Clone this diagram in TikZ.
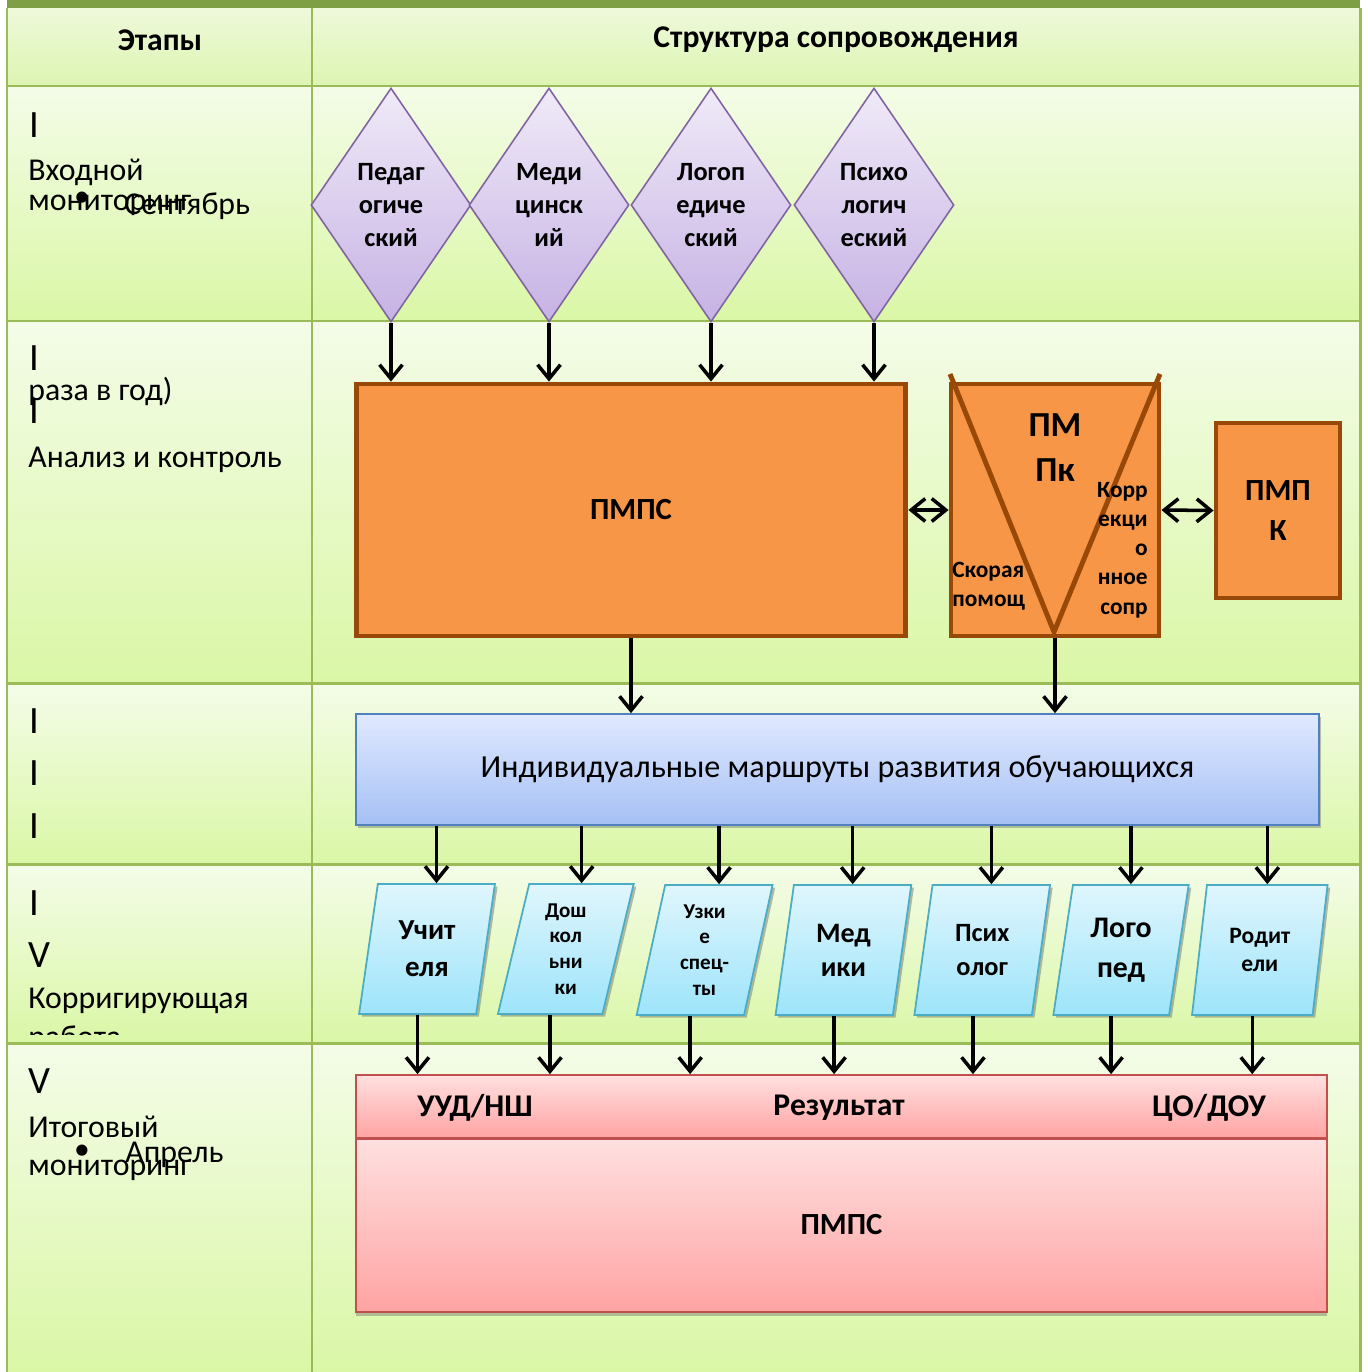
\documentclass[tikz,border=0pt]{standalone}
\usepackage{fontspec}
\setmainfont{Carlito}
\usetikzlibrary{shapes.geometric,arrows.meta,shadows,calc}
\definecolor{gridc}{HTML}{9BBB59}
\definecolor{barc}{HTML}{7F9F44}
\definecolor{cellT}{HTML}{F4FCE8}
\definecolor{cellB}{HTML}{DAF7A6}
\definecolor{headT}{HTML}{EEF9DA}
\definecolor{headB}{HTML}{DDF5B2}
\definecolor{diaT}{HTML}{F0EAF8}
\definecolor{diaB}{HTML}{C6B2E4}
\definecolor{diaL}{HTML}{8064A2}
\definecolor{orF}{HTML}{F79646}
\definecolor{orL}{HTML}{984807}
\definecolor{blT}{HTML}{E0E9FF}
\definecolor{blB}{HTML}{A5C0F4}
\definecolor{blL}{HTML}{4F81BD}
\definecolor{cyT}{HTML}{E0F6FD}
\definecolor{cyB}{HTML}{9DE4FA}
\definecolor{cyL}{HTML}{4BACC6}
\definecolor{rdT}{HTML}{FFE0E0}
\definecolor{rdB}{HTML}{FFA3A3}
\definecolor{rdL}{HTML}{C0504D}
\begin{document}
\begin{tikzpicture}[x=0.02cm,y=-0.02cm,
  gridline/.style={draw=gridc,line width=1.7pt},
  lt/.style={anchor=base west,inner sep=0,font=\fontsize{18.1}{20}\selectfont},
  rn/.style={anchor=base west,inner sep=0,font=\fontsize{22}{24}\selectfont},
  hd/.style={inner sep=0,font=\bfseries\fontsize{18}{20}\selectfont},
  dia/.style={diamond,draw=diaL,line width=0.9pt,top color=diaT,bottom color=diaB,
    minimum width=3.2cm,minimum height=4.68cm,inner sep=0,align=center,
    font=\bfseries\fontsize{15}{18.7}\selectfont},
  orbox/.style={rectangle,draw=orL,fill=orF,line width=2.8pt,inner sep=0,align=center},
  para/.style={trapezium,trapezium left angle=79,trapezium right angle=101,
    trapezium stretches=true,minimum width=2.72cm,minimum height=2.6cm,
    draw=cyL,line width=1pt,top color=cyT,bottom color=cyB,inner sep=0,align=center,
    drop shadow={shadow xshift=1.5pt,shadow yshift=-1.5pt,fill=black!60,opacity=0.45}},
  arr/.style={line width=2pt,-{Straight Barb[length=8pt,width=13pt]}},
  darr/.style={line width=2pt,{Straight Barb[length=8pt,width=13pt]}-{Straight Barb[length=8pt,width=13pt]}},
  lbl/.style={inner sep=0,align=center}]
\useasboundingbox (0,0) rectangle (1367,1372);
\fill[white] (0,0) rectangle (1367,1372);
% table cells
\shade[top color=headT,bottom color=headB] (7,8) rectangle (1360,86);
\foreach \ya/\yb in {86/321,321/683,683/864,864/1043,1043/1372}{
  \shade[top color=cellT,bottom color=cellB] (7,\ya) rectangle (312,\yb);
  \shade[top color=cellT,bottom color=cellB] (312,\ya) rectangle (1360,\yb);
}
\fill[barc] (7,0) rectangle (1360,8);
\foreach \yy in {86,321,683,864,1043}{\draw[gridline] (7,\yy) -- (1360,\yy);}
\draw[gridline] (7,8) -- (7,1372);
\draw[gridline] (312,8) -- (312,1372);
\draw[gridline] (1360,8) -- (1360,1372);
% header
\node[hd] (h1) at (160,40) {Этапы};
\node[hd] (h2) at (836,40) {Структура сопровождения};
% left column
\node[rn] (r1a) at (29,137) {I};
\node[lt] (r1b) at (28,180) {Входной};
\node[lt] (r1c) at (28,210) {мониторинг};
\node[inner sep=0,font=\fontsize{18}{20}\selectfont] (r1d) at (82,199) {•};
\node[lt] (r1e) at (124,214) {Сентябрь};
\node[rn] (r2a) at (29,370) {I};
\node[lt] (r2b) at (28,400) {раза в год)};
\node[rn] (r2c) at (29,423) {I};
\node[lt] (r2d) at (28,467) {Анализ и контроль};
\node[rn] (r3a) at (29,733) {I};
\node[rn] (r3b) at (29,785) {I};
\node[rn] (r3c) at (29,838) {I};
\node[rn] (r4a) at (29,915) {I};
\node[rn] (r4b) at (28,967) {V};
\node[lt] (r4c) at (28,1008) {Корригирующая};
\begin{scope}
\clip (7,864) rectangle (312,1034);
\node[lt] (r4d) at (28,1047) {работа};
\end{scope}
\node[rn] (r5a) at (28,1093) {V};
\node[lt] (r5b) at (28,1137) {Итоговый};
\node[lt] (r5c) at (28,1175) {мониторинг};
\node[inner sep=0,font=\fontsize{18}{20}\selectfont] (r5d) at (82,1152) {•};
\node[lt] (r5e) at (125,1162) {Апрель};
% diamonds
\node[dia] (d1) at (391,205) {Педаг\\огиче\\ский};
\node[dia] (d2) at (549,205) {Меди\\цинск\\ий};
\node[dia] (d3) at (711,205) {Логоп\\едиче\\ский};
\node[dia] (d4) at (874,205) {Психо\\логич\\еский};
% orange boxes
\node[orbox,minimum width=11cm,minimum height=5.04cm,font=\bfseries\fontsize{17.5}{20}\selectfont] (pmps) at (631,510) {ПМПС};
\node[orbox,minimum width=4.16cm,minimum height=5.04cm] (pmpk) at (1055,510) {};
\draw[orL,line width=2.8pt,line join=miter] (950,374) -- (1054,632) -- (1160,374);
\node[lbl,font=\bfseries\fontsize{20}{25.5}\selectfont] (pmpkt) at (1055,448) {ПМ\\Пк};
\node[lbl,anchor=west,align=left,font=\bfseries\fontsize{13.3}{16.4}\selectfont] (pmpkl) at (952,586) {Скорая\\помощ};
\node[lbl,anchor=east,align=right,font=\bfseries\fontsize{13.3}{16.6}\selectfont] (pmpkr) at (1148,550) {Корр\\екци\\о\\нное\\сопр};
\node[orbox,minimum width=2.48cm,minimum height=3.5cm,font=\bfseries\fontsize{17.5}{22.7}\selectfont] (pmpkk) at (1278,510.5) {ПМП\\К};
% arrows diamonds -> pmps
\foreach \d in {d1,d2,d3,d4}{\draw[arr] (\d.south) -- (\d.south |- pmps.north);}
\draw[darr] (pmps.east) -- (pmpk.west);
\draw[darr] (pmpk.east) -- (pmpkk.west);
% blue box
\node[rectangle,draw=blL,line width=1pt,top color=blT,bottom color=blB,
  minimum width=19.26cm,minimum height=2.22cm,inner sep=0,
  font=\fontsize{18.3}{20}\selectfont,
  drop shadow={shadow xshift=1.2pt,shadow yshift=-1.5pt,fill=black!60,opacity=0.4}] (blue) at (837.5,769.5) {Индивидуальные маршруты развития обучающихся};
\draw[arr] (pmps.south) -- (pmps.south |- blue.north);
\draw[arr] (pmpk.south) -- (pmpk.south |- blue.north);
% parallelograms
\node[para,font=\bfseries\fontsize{16.5}{21}\selectfont] (p1) at (427,949) {Учит\\еля};
\node[para,font=\bfseries\fontsize{12}{14.7}\selectfont] (p2) at (565.8,949) {Дош\\кол\\ьни\\ки};
\node[para,font=\bfseries\fontsize{12}{14.7}\selectfont] (p3) at (704.6,950) {Узки\\е\\спец-\\ты};
\node[para,font=\bfseries\fontsize{16}{19.3}\selectfont] (p4) at (843.4,950) {Мед\\ики};
\node[para,font=\bfseries\fontsize{15}{19.3}\selectfont] (p5) at (982.2,950) {Псих\\олог};
\node[para,font=\bfseries\fontsize{17}{22.7}\selectfont] (p6) at (1121,950) {Лого\\пед};
\node[para,font=\bfseries\fontsize{13.4}{16.4}\selectfont] (p7) at (1259.8,950) {Родит\\ели};
% red box
\node[rectangle,draw=rdL,line width=1pt,top color=rdT,bottom color=rdB,
  minimum width=19.42cm,minimum height=3.48cm,inner sep=0,
  font=\bfseries\fontsize{17.5}{20}\selectfont,
  drop shadow={shadow xshift=0pt,shadow yshift=-2pt,fill=black!60,opacity=0.4}] (redb) at (841.5,1225) {ПМПС};
\node[rectangle,draw=rdL,line width=1pt,top color=rdT,bottom color=rdB,
  minimum width=19.42cm,minimum height=1.26cm,inner sep=0] (redt) at (841.5,1106.5) {};
\draw[rdL,line width=1.6pt] (redt.south west) -- (redt.south east);
\node[lbl,font=\bfseries\fontsize{18}{20}\selectfont] (rt1) at (475,1108) {УУД/НШ};
\node[lbl,font=\bfseries\fontsize{18}{20}\selectfont] (rt2) at (839,1108) {Результат};
\node[lbl,font=\bfseries\fontsize{18}{20}\selectfont] (rt3) at (1209,1108) {ЦО/ДОУ};
% arrows blue -> parallelograms -> red
\foreach \p in {p1,p2,p3,p4,p5,p6,p7}{
  \draw[arr] (blue.south -| \p.top side) -- (\p.top side);
  \draw[arr] (\p.bottom side) -- (\p.bottom side |- redt.north);
}
\end{tikzpicture}
\end{document}
